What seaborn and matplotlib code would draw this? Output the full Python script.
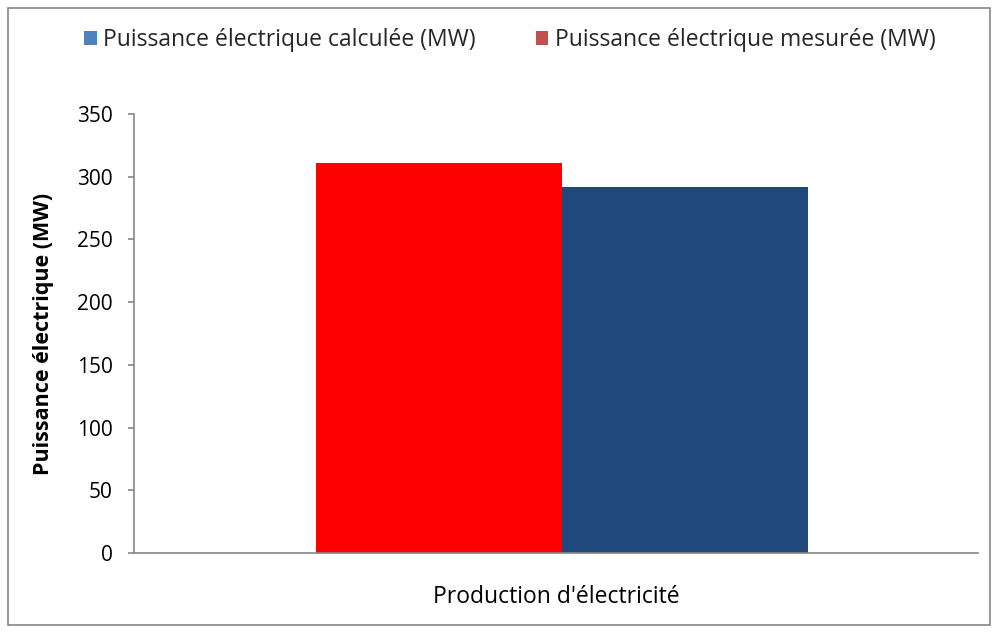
import matplotlib
matplotlib.use("Agg")
import matplotlib.pyplot as plt
from matplotlib.patches import Rectangle, Patch
import seaborn as sns
import pandas as pd

categories = ["Production d'électricité"]
series = ["Puissance électrique calculée (MW)", "Puissance électrique mesurée (MW)"]
values_calculee = [311]
values_mesuree = [292]
bar_colors = ["#FF0000", "#1F497D"]
legend_colors = ["#4F81BD", "#C0504D"]
yticks = [0, 50, 100, 150, 200, 250, 300, 350]

df = pd.DataFrame({
    "categorie": categories * 2,
    "serie": [series[0]] * len(categories) + [series[1]] * len(categories),
    "valeur": values_calculee + values_mesuree,
})

sns.set_theme(style="white")
plt.rcParams["font.family"] = ["Open Sans", "DejaVu Sans"]

fig = plt.figure(figsize=(9.98, 6.33), dpi=100)
ax = fig.add_axes([134 / 998, 1 - 553 / 633, (978 - 134) / 998, (553 - 114) / 633])

sns.barplot(data=df, x="categorie", y="valeur", hue="serie", palette=bar_colors,
            width=0.582, gap=0, saturation=1, ax=ax, legend=False, linewidth=0)

ax.set_xlim(-0.507, 0.493)
ax.set_ylim(0, 350)
ax.set_yticks(yticks)
ax.set_yticklabels([str(t) for t in yticks], fontsize=15, color="#000000")
ax.set_xticks([])
ax.set_xlabel(categories[0], fontsize=16.5, labelpad=23, color="#000000")
ax.set_ylabel("Puissance électrique (MW)", fontsize=15.5, fontweight="bold",
              labelpad=16, color="#000000")

for side in ["top", "right"]:
    ax.spines[side].set_visible(False)
for side in ["left", "bottom"]:
    ax.spines[side].set_color("#868686")
    ax.spines[side].set_linewidth(1.2)
ax.tick_params(axis="y", which="major", left=True, length=4.5, width=1.2,
               color="#868686", pad=11, direction="out")

handles = [Patch(facecolor=c, edgecolor="none") for c in legend_colors]
fig.legend(handles, series, loc="center", bbox_to_anchor=(0.511, 1 - 40 / 633),
           ncol=2, frameon=False, fontsize=16.5, handlelength=0.55,
           handleheight=0.55, handletextpad=0.3, columnspacing=2.6)

# outer chart border
fig.patches.append(Rectangle((8 / 998, 8 / 633), 982 / 998, 617 / 633,
                             transform=fig.transFigure, fill=False,
                             edgecolor="#868686", linewidth=1.2))

fig.savefig("out.png", dpi=100)
